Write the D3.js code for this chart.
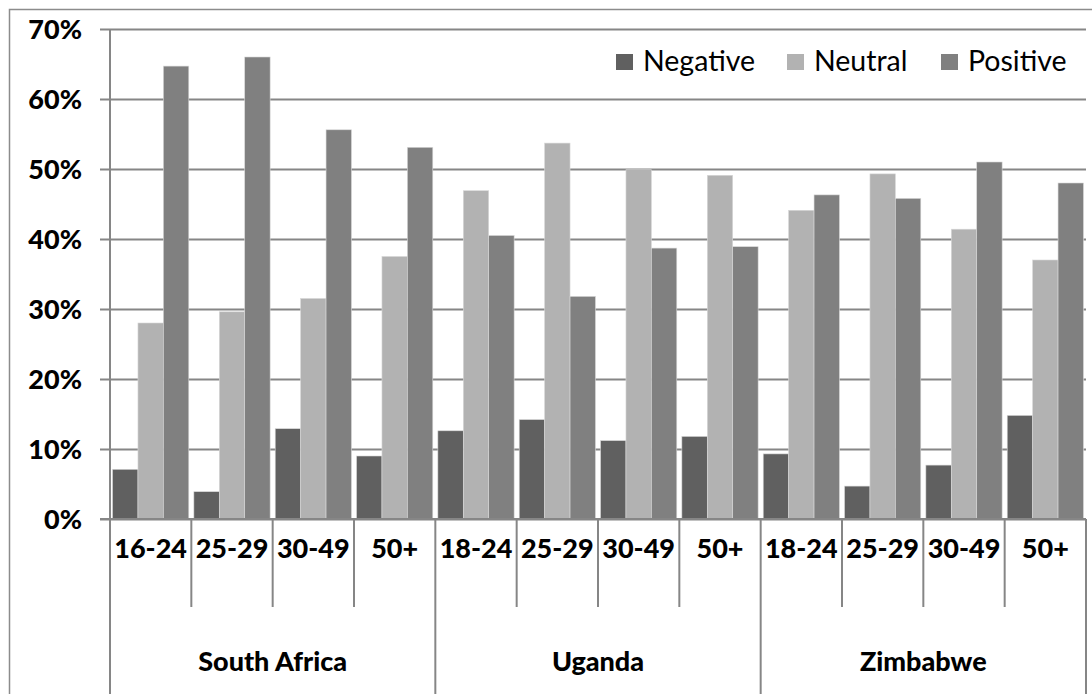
<!DOCTYPE html>
<html><head><meta charset="utf-8">
<script src="https://cdn.jsdelivr.net/npm/d3@7"></script>
<style>
html,body{margin:0;padding:0;background:#fff;}
svg{display:block;}
text{font-family:Lato, "Open Sans", sans-serif;}
</style></head>
<body>
<svg id="chart" width="1092" height="694"></svg>
<script>
const countries = ["South Africa", "Uganda", "Zimbabwe"];
const ageGroups = [
  ["16-24", "25-29", "30-49", "50+"],
  ["18-24", "25-29", "30-49", "50+"],
  ["18-24", "25-29", "30-49", "50+"]
];
const seriesNames = ["Negative", "Neutral", "Positive"];
const negative = [7.1, 3.9, 12.9, 9.0, 12.6, 14.2, 11.2, 11.8, 9.3, 4.7, 7.7, 14.8];
const neutral  = [28.0, 29.6, 31.5, 37.5, 46.9, 53.7, 49.9, 49.1, 44.1, 49.3, 41.4, 37.0];
const positive = [64.7, 66.0, 55.6, 53.1, 40.5, 31.8, 38.7, 38.9, 46.3, 45.8, 51.0, 48.0];
const yTicks = [0, 10, 20, 30, 40, 50, 60, 70];
const colors = ["#606060", "#b2b2b2", "#808080"];

(function () {
const svg = d3.select("#chart");
const W = 1092, H = 694;
const pL = 110, pR = 1086, pT = 29, pB = 519;

const cats = [];
countries.forEach((c, ci) => ageGroups[ci].forEach((a) => cats.push({country: c, ci, age: a, key: ci + "|" + a})));

const x = d3.scaleBand().domain(cats.map(d => d.key)).range([pL, pR]).paddingInner(0).paddingOuter(0);
const bw = x.bandwidth();
const xs = d3.scaleBand().domain(seriesNames).range([0, bw]).paddingInner(0).paddingOuter(0.1);
const y = d3.scaleLinear().domain([0, 70]).range([pB, pT]);

svg.append("rect").attr("x", 9.5).attr("y", 9.5).attr("width", W + 10).attr("height", H + 10)
  .attr("fill", "none").attr("stroke", "#8c8c8c").attr("stroke-width", 1.5);

const yAxis = d3.axisLeft(y).tickValues(yTicks).tickFormat(d => d + "%").tickSize(10).tickPadding(16);
const gy = svg.append("g").attr("transform", `translate(${pL},0)`).call(yAxis);
gy.select(".domain").remove();
gy.selectAll(".tick line").attr("stroke", "#868686").attr("stroke-width", 2)
  .attr("x1", -10).attr("x2", pR - pL);
gy.selectAll(".tick text").attr("font-size", 27).attr("font-weight", "900").attr("fill", "#000")
  .attr("x", -28).attr("dy", "0.35em");

const values = [negative, neutral, positive];
const barData = [];
cats.forEach((c, i) => seriesNames.forEach((s, si) => barData.push({cat: c.key, s, v: values[si][i], si})));
svg.append("g").selectAll("rect").data(barData).join("rect")
  .attr("x", d => x(d.cat) + xs(d.s))
  .attr("width", xs.bandwidth())
  .attr("y", d => y(d.v))
  .attr("height", d => y(0) - y(d.v))
  .attr("fill", d => colors[d.si])
  .attr("stroke", "#d8d8d8").attr("stroke-width", 0.6);

svg.append("line").attr("x1", pL).attr("x2", pL).attr("y1", pT).attr("y2", H)
  .attr("stroke", "#868686").attr("stroke-width", 2);
svg.append("line").attr("x1", pL - 10).attr("x2", pR).attr("y1", pB).attr("y2", pB)
  .attr("stroke", "#868686").attr("stroke-width", 2);

const lvl1 = 607;
cats.forEach((c, i) => {
  const xr = x(c.key) + bw;
  const isCountryEnd = (i === cats.length - 1) || cats[i + 1].ci !== c.ci;
  svg.append("line").attr("x1", xr).attr("x2", xr).attr("y1", pB).attr("y2", isCountryEnd ? H : lvl1)
    .attr("stroke", "#868686").attr("stroke-width", 2);
});

svg.append("g").selectAll("text").data(cats).join("text")
  .attr("x", d => x(d.key) + bw / 2)
  .attr("y", 549).attr("dy", "0.35em")
  .attr("text-anchor", "middle").attr("font-size", 27).attr("font-weight", "900").attr("fill", "#000")
  .text(d => d.age);

svg.append("g").selectAll("text").data(countries).join("text")
  .attr("x", (d, ci) => {
    const ks = cats.filter(c => c.ci === ci);
    return (x(ks[0].key) + x(ks[ks.length - 1].key) + bw) / 2;
  })
  .attr("y", 662).attr("dy", "0.35em")
  .attr("text-anchor", "middle").attr("font-size", 27).attr("font-weight", "900").attr("fill", "#000")
  .text(d => d);

const legendX = [616, 787, 941];
const lg = svg.append("g");
seriesNames.forEach((s, i) => {
  lg.append("rect").attr("x", legendX[i]).attr("y", 54).attr("width", 17).attr("height", 16).attr("fill", colors[i]);
  lg.append("text").attr("x", legendX[i] + 27).attr("y", 71)
    .attr("font-size", 28.5).attr("fill", "#000").text(s);
});
})();
</script>
</body></html>
